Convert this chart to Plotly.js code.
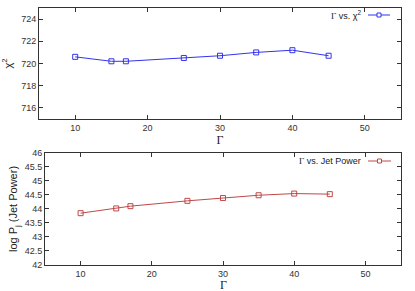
<!DOCTYPE html>
<html><head><meta charset="utf-8">
<script src="https://cdn.plot.ly/plotly-3.0.1.min.js"></script>
<style>html,body{margin:0;padding:0;background:#fff}#c{width:415px;height:291px}</style>
</head><body><div id="c"></div>
<script>
const gammaVals = [10, 15, 17, 25, 30, 35, 40, 45];
const chi2Vals = [720.6, 720.2, 720.2, 720.5, 720.7, 721.0, 721.2, 720.7];
const jetPowerVals = [43.85, 44.02, 44.1, 44.29, 44.39, 44.49, 44.55, 44.53];
const xTicks = [10, 20, 30, 40, 50];
const chi2Ticks = [716, 718, 720, 722, 724];
const jetTicks = [42, 42.5, 43, 43.5, 44, 44.5, 45, 45.5, 46];

const blue = '#3333ee';
const red = '#c04848';
const tickFont = {family: 'Liberation Sans, Arial, sans-serif', size: 9, color: '#333'};

const traces = [
  {x: gammaVals, y: chi2Vals, xaxis: 'x', yaxis: 'y', mode: 'lines+markers',
   line: {color: blue, width: 1}, marker: {symbol: 'square-open', size: 5, color: blue, line: {width: 1}},
   showlegend: false},
  {x: gammaVals, y: jetPowerVals, xaxis: 'x2', yaxis: 'y2', mode: 'lines+markers',
   line: {color: red, width: 1}, marker: {symbol: 'square-open', size: 5, color: red, line: {width: 1}},
   showlegend: false}
];

const axCommon = {showline: true, linecolor: '#333', linewidth: 1, mirror: 'ticks', ticks: 'inside',
  ticklen: 4, tickcolor: '#333', showgrid: false, zeroline: false, tickfont: tickFont};

const layout = {
  width: 415, height: 291,
  margin: {l: 39, r: 14, t: 8, b: 26},
  paper_bgcolor: '#fff', plot_bgcolor: '#fff',
  xaxis: Object.assign({}, axCommon, {domain: [0, 1], range: [5, 55], tickvals: xTicks, anchor: 'y',
    title: {text: 'Γ', font: {family: 'Liberation Serif, serif', size: 12, color: '#222'}, standoff: 3}}),
  yaxis: Object.assign({}, axCommon, {domain: [0.568, 1], range: [715, 725], tickvals: chi2Ticks, anchor: 'x',
    title: {text: 'χ<sup>2</sup>', font: {family: 'Liberation Sans, sans-serif', size: 11, color: '#222'}, standoff: 6}}),
  xaxis2: Object.assign({}, axCommon, {domain: [0.0166, 1], range: [5, 55], tickvals: xTicks, anchor: 'y2'}),
  yaxis2: Object.assign({}, axCommon, {domain: [0, 0.436], range: [42, 46], tickvals: jetTicks, anchor: 'x2',
    ticktext: jetTicks.map(v => String(v)),
    title: {text: 'log P<sub>j</sub> (Jet Power)', font: {family: 'Liberation Sans, sans-serif', size: 11, color: '#222'}, standoff: 4}}),
  annotations: [
    {xref: 'paper', yref: 'paper', x: 324/362, y: (265-15)/257, xanchor: 'right', yanchor: 'middle', showarrow: false,
     text: '<span style="font-family:Liberation Serif">Γ</span> vs. χ<sup>2</sup>', font: {family: 'Liberation Sans, sans-serif', size: 9, color: '#222'}},
    {xref: 'paper', yref: 'paper', x: 324/362, y: (265-161)/257, xanchor: 'right', yanchor: 'middle', showarrow: false,
     text: '<span style="font-family:Liberation Serif">Γ</span> vs. Jet Power', font: {family: 'Liberation Sans, sans-serif', size: 9, color: '#222'}},
    {xref: 'paper', yref: 'paper', x: (223-39)/362, y: (265-285)/257, xanchor: 'center', yanchor: 'middle', showarrow: false,
     text: 'Γ', font: {family: 'Liberation Serif, serif', size: 12, color: '#222'}}
  ],
  shapes: [
    {type: 'line', xref: 'paper', yref: 'paper', x0: 329/362, x1: 351/362, y0: (265-15)/257, y1: (265-15)/257, line: {color: blue, width: 1}},
    {type: 'rect', xref: 'paper', yref: 'paper', x0: 338/362, x1: 342/362, y0: (265-17)/257, y1: (265-13)/257, line: {color: blue, width: 1}, fillcolor: '#fff'},
    {type: 'line', xref: 'paper', yref: 'paper', x0: 329/362, x1: 352/362, y0: (265-161)/257, y1: (265-161)/257, line: {color: red, width: 1}},
    {type: 'rect', xref: 'paper', yref: 'paper', x0: 338.5/362, x1: 342.5/362, y0: (265-163)/257, y1: (265-159)/257, line: {color: red, width: 1}, fillcolor: '#fff'}
  ]
};

Plotly.newPlot('c', traces, layout, {displayModeBar: false, staticPlot: true});
</script></body></html>
